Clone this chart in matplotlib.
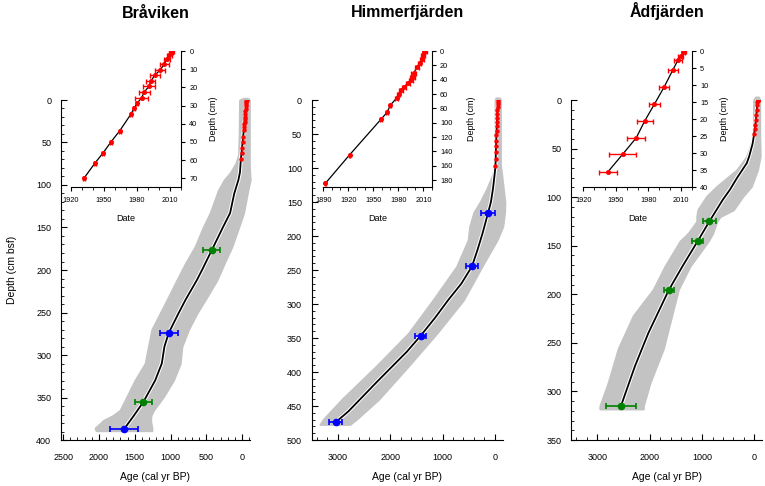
import matplotlib
matplotlib.use("Agg")
import matplotlib.pyplot as plt
import matplotlib.patheffects as pe
from matplotlib.ticker import MultipleLocator

plt.rcParams['font.family'] = ['Liberation Sans', 'DejaVu Sans']

# ---------------- Bråviken ----------------
brav_pb_date = [1931.8, 1941.5, 1949.4, 1956.4, 1964.3, 1974.3, 1977.3, 1980.0, 1984.2, 1986.7,
                1990.9, 1992.7, 1996.1, 2000.9, 2004.8, 2007.0, 2009.4, 2010.9, 2012.0]
brav_pb_depth = [70.0, 61.9, 55.9, 50.0, 43.9, 34.9, 31.6, 28.8, 25.7, 22.4,
                 19.5, 16.4, 13.4, 10.5, 7.3, 4.4, 2.2, 0.7, 0.0]
brav_pb_err = [0.8, 0.8, 0.8, 0.8, 0.8, 0.8, 0.8, 0.8, 6.2, 5.2,
               5.3, 4.1, 4.5, 4.1, 3.9, 2.7, 2.0, 1.5, 1.2]
brav_c14_depth = [176, 274, 355, 387]
brav_c14_age = [423, 1020, 1378, 1648]
brav_c14_err = [119, 123, 117, 198]
brav_c14_kind = ['g', 'b', 'g', 'b']
brav_model_depth = [0, 10.5, 25.7, 35, 50, 62, 70, 85, 94, 110, 133, 150, 176, 200, 212, 235,
                    251, 274, 290, 310, 330, 355, 372, 387]
brav_model_age = [-62, -51, -34, -24, -6, 8, 18, 30, 52, 110, 168, 270, 420, 560, 633, 790,
                  889, 1025, 1085, 1122, 1215, 1378, 1518, 1648]
brav_env_depth = [-2, 0, 40, 65, 75, 85, 94, 106, 133, 150, 172.5, 192, 212, 232, 251, 270,
                  290, 310, 329.5, 349, 365, 371, 377, 386, 389]
brav_env_old = [-20, 35, 40, 50, 90, 160, 250, 330, 447, 545, 656, 790, 912, 1030, 1145, 1261,
                1308, 1355, 1494, 1610, 1704, 1800, 1937, 2053, 2040]
brav_env_young = [-80, -100, -100, -100, -100, -105, -112, -80, -19, 50, 144, 250, 354, 495,
                  633, 750, 842, 866, 959, 1099, 1239, 1274, 1280, 1261, 1261]

# ---------------- Himmerfjärden ----------------
himm_pb_date = [1892.4, 1921.5, 1959.1, 1966.4, 1970.5, 1977.8, 1980.2, 1983.3, 1986.6, 1991.5,
                1994.7, 1997.5, 1998.7, 2002.7, 2005.6, 2008.4, 2009.6, 2010.8, 2012.4]
himm_pb_depth = [184.6, 144.8, 95.3, 85.6, 75.4, 65.7, 60.1, 54.6, 50.0, 44.9,
                 39.8, 35.7, 30.1, 22.2, 16.2, 11.1, 5.6, 1.9, 0.0]
himm_pb_err = [0.8, 0.8, 0.8, 1.0, 1.0, 1.5, 1.5, 2.0, 2.0, 2.5,
               2.5, 3.0, 3.0, 2.5, 2.0, 2.0, 2.0, 1.5, 1.5]
himm_main_pb_depth = [0, 3, 6, 10, 15, 20, 26, 32, 38, 45, 52, 60, 68, 77, 87, 97]
himm_main_pb_age = [-62, -60, -57, -54, -50, -47, -44, -40, -37, -33, -30, -27, -23, -20, -16, -12]
himm_c14_depth = [165.5, 244.8, 346.6, 473.8]
himm_c14_age = [128, 439, 1417, 3045]
himm_c14_err = [137, 118, 108, 127]
himm_c14_kind = ['b', 'b', 'b', 'b']
himm_model_depth = [0, 20, 45, 68, 97, 110, 130, 150, 165.5, 196, 220, 245, 270, 294, 320,
                    346.6, 370, 391, 415, 440, 458, 474]
himm_model_age = [-62, -47, -33, -23, -12, 5, 35, 75, 128, 235, 330, 439, 640, 890, 1140,
                  1417, 1680, 1951, 2260, 2574, 2800, 3045]
himm_env_depth = [-3, 0, 95, 110, 130, 150, 165, 186, 206, 245, 294, 343, 391, 440, 469, 477]
himm_env_old = [-20, -5, -5, 40, 150, 280, 400, 480, 510, 730, 1180, 1650, 2260, 2920, 3270, 3340]
himm_env_young = [-90, -105, -105, -130, -160, -190, -185, -150, -40, 250, 600, 1110, 1650,
                  2220, 2640, 2770]

# ---------------- Ådfjärden ----------------
adf_pb_date = [1942.6, 1956.3, 1968.8, 1976.7, 1985.6, 1994.5, 2002.7, 2007.6, 2010.0, 2012.1, 2013.3]
adf_pb_depth = [35.5, 30.3, 25.5, 20.5, 15.6, 10.6, 5.5, 2.5, 1.5, 0.4, 0.0]
adf_pb_err = [8.4, 12.5, 8.4, 7.6, 5.3, 4.6, 4.6, 3.5, 2.3, 1.5, 1.2]
adf_c14_depth = [125, 145.3, 195.2, 315]
adf_c14_age = [860, 1083, 1630, 2547]
adf_c14_err = [118, 111, 96, 280]
adf_c14_kind = ['g', 'g', 'g', 'g']
adf_model_depth = [0, 5.5, 15.6, 25.5, 35.5, 45, 58, 65, 80, 92.5, 102.7, 125, 145.3, 170,
                   195.2, 240, 274, 315]
adf_model_age = [-63, -53, -36, -19, 7, 35, 100, 146, 330, 470, 604, 860, 1083, 1360,
                 1630, 2025, 2280, 2547]
adf_env_depth = [-3, 0, 38, 58, 72, 89, 99, 113, 120, 125, 137, 145, 171, 195, 222,
                 256, 291, 315, 318]
adf_env_old = [-20, 15, 20, 146, 337, 719, 910, 1080, 1100, 1100, 1260, 1415, 1706, 1930,
               2312, 2599, 2790, 2949, 2949]
adf_env_young = [-80, -100, -100, -109, -57, 60, 220, 401, 655, 719, 795, 879, 1229, 1452,
                 1579, 1739, 1993, 2121, 2121]

cores = [
    dict(name='Bråviken', pb_date=brav_pb_date, pb_depth=brav_pb_depth, pb_err=brav_pb_err,
         main_pb_age=[1950 - d for d in brav_pb_date], main_pb_depth=brav_pb_depth,
         c14_depth=brav_c14_depth, c14_age=brav_c14_age, c14_err=brav_c14_err, kind=brav_c14_kind,
         m_depth=brav_model_depth, m_age=brav_model_age,
         e_depth=brav_env_depth, e_old=brav_env_old, e_young=brav_env_young,
         xlim=(2530, -110), ylim=(400, 0), xmaj=500, xmin=100,
         ins_xlim=(1920, 2020), ins_ylim=(75, 0), ins_ystep=10, ins_xt=[1920, 1950, 1980, 2010],
         main_pos=[61, 250], ins_pos=[71, 181], ylab_x=1.257),
    dict(name='Himmerfjärden', pb_date=himm_pb_date, pb_depth=himm_pb_depth, pb_err=himm_pb_err,
         main_pb_age=himm_main_pb_age, main_pb_depth=himm_main_pb_depth,
         c14_depth=himm_c14_depth, c14_age=himm_c14_age, c14_err=himm_c14_err, kind=himm_c14_kind,
         m_depth=himm_model_depth, m_age=himm_model_age,
         e_depth=himm_env_depth, e_old=himm_env_old, e_young=himm_env_young,
         xlim=(3500, -150), ylim=(500, 0), xmaj=1000, xmin=200,
         ins_xlim=(1890, 2020), ins_ylim=(190, 0), ins_ystep=20,
         ins_xt=[1890, 1920, 1950, 1980, 2010],
         main_pos=[311.7, 502.7], ins_pos=[323.3, 431.7], ylab_x=1.323),
    dict(name='Ådfjärden', pb_date=adf_pb_date, pb_depth=adf_pb_depth, pb_err=adf_pb_err,
         main_pb_age=[1950 - d for d in adf_pb_date], main_pb_depth=adf_pb_depth,
         c14_depth=adf_c14_depth, c14_age=adf_c14_age, c14_err=adf_c14_err, kind=adf_c14_kind,
         m_depth=adf_model_depth, m_age=adf_model_age,
         e_depth=adf_env_depth, e_old=adf_env_old, e_young=adf_env_young,
         xlim=(3500, -150), ylim=(350, 0), xmaj=1000, xmin=200,
         ins_xlim=(1920, 2020), ins_ylim=(40, 0), ins_ystep=5, ins_xt=[1920, 1950, 1980, 2010],
         main_pos=[571, 762.3], ins_pos=[583.3, 691.7], ylab_x=1.261),
]

colors = {'g': '#008000', 'b': '#0000ff'}
W, H = 765.0, 486.0

fig = plt.figure(figsize=(7.65, 4.86), dpi=100)

for i, c in enumerate(cores):
    l, r = c['main_pos']
    ax = fig.add_axes([l / W, 1 - 440 / H, (r - l) / W, 340 / H])
    ax.fill_betweenx(c['e_depth'], c['e_young'], c['e_old'], color='#c3c3c3', lw=1.5,
                     edgecolor='#c3c3c3', joinstyle='round', clip_on=False, zorder=1)
    ax.plot(c['m_age'], c['m_depth'], color='black', lw=1.3, zorder=3,
            path_effects=[pe.Stroke(linewidth=2.8, foreground='white'), pe.Normal()])
    ax.plot(c['main_pb_age'], c['main_pb_depth'], 'o', color='red', ms=2.2, zorder=4)
    for d, a, e, k in zip(c['c14_depth'], c['c14_age'], c['c14_err'], c['kind']):
        ax.errorbar(a, d, xerr=e, fmt='o', color=colors[k], ms=4.5, capsize=2.5,
                    elinewidth=1.2, capthick=1.2, zorder=5)
    ax.set_xlim(*c['xlim'])
    ax.set_ylim(*c['ylim'])
    for s in ['top', 'right']:
        ax.spines[s].set_visible(False)
    ax.xaxis.set_major_locator(MultipleLocator(c['xmaj']))
    ax.xaxis.set_minor_locator(MultipleLocator(c['xmin']))
    ax.yaxis.set_major_locator(MultipleLocator(50))
    ax.yaxis.set_minor_locator(MultipleLocator(10))
    ax.tick_params(which='major', direction='in', length=4, width=0.8, labelsize=6.5)
    ax.tick_params(which='minor', direction='in', length=2, width=0.6)
    ax.tick_params(axis='x', which='major', pad=9.5)
    ax.tick_params(axis='y', which='major', pad=7)
    ax.set_facecolor('none')
    ax.set_xlabel('Age (cal yr BP)', fontsize=7.5)
    ax.xaxis.set_label_coords(0.5, -0.093)
    if i == 0:
        ax.set_ylabel('Depth (cm bsf)', fontsize=7.5)
        ax.yaxis.set_label_coords(-0.233, 0.5)
    fig.text((l + r) / 2 / W, 1 - 17.5 / H, c['name'], fontsize=11.5, fontweight='bold',
             ha='center', va='baseline')

    # inset with 210Pb dates
    il, ir = c['ins_pos']
    ia = fig.add_axes([il / W, 1 - 187.3 / H, (ir - il) / W, 136.3 / H])
    ia.set_facecolor('none')
    ia.plot(c['pb_date'], c['pb_depth'], color='black', lw=0.9, zorder=2)
    ia.errorbar(c['pb_date'], c['pb_depth'], xerr=c['pb_err'], fmt='o', color='red', ms=2.6,
                capsize=1.8, elinewidth=1.0, capthick=1.0, zorder=3)
    ia.set_xlim(*c['ins_xlim'])
    ia.set_ylim(*c['ins_ylim'])
    for s in ['top', 'left']:
        ia.spines[s].set_visible(False)
    ia.yaxis.tick_right()
    ia.yaxis.set_label_position('right')
    ia.set_xticks(c['ins_xt'])
    ia.xaxis.set_minor_locator(MultipleLocator(10))
    ia.yaxis.set_major_locator(MultipleLocator(c['ins_ystep']))
    ia.tick_params(which='major', direction='out', length=3, width=0.8, labelsize=5.3)
    ia.tick_params(which='minor', direction='out', length=2, width=0.6)
    ia.tick_params(axis='x', which='major', pad=4)
    ia.tick_params(axis='y', which='major', pad=3)
    ia.set_xlabel('Date', fontsize=6.5)
    ia.xaxis.set_label_coords(0.5, -0.196)
    ia.set_ylabel('Depth (cm)', fontsize=6.5, rotation=90)
    ia.yaxis.set_label_coords(c['ylab_x'], 0.5)

fig.savefig('out.png', dpi=100)
